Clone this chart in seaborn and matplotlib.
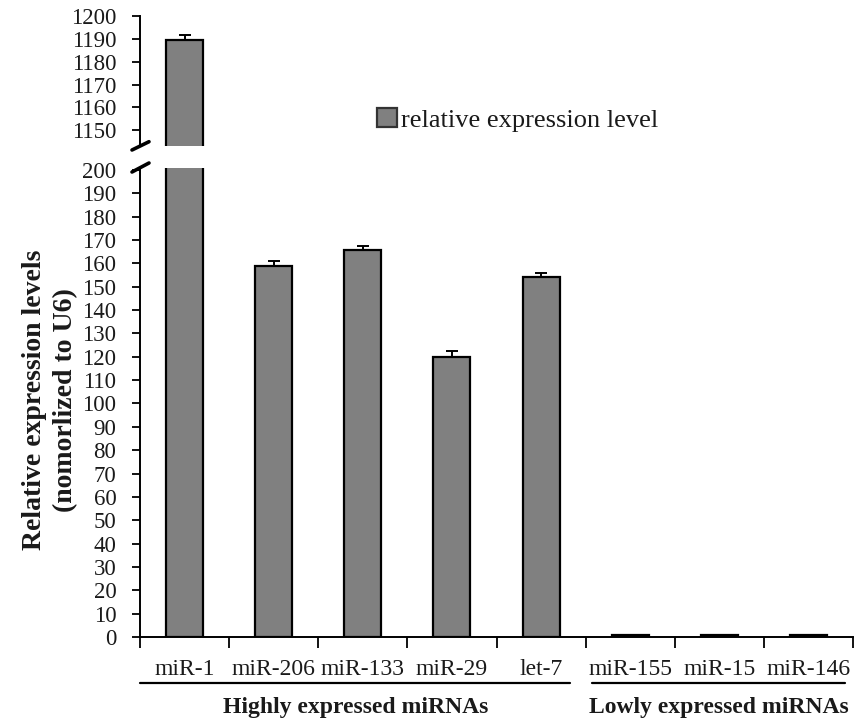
import matplotlib
matplotlib.use("Agg")
import matplotlib.pyplot as plt
import matplotlib.patches as mpatches
import numpy as np
import pandas as pd
import seaborn as sns

# miRNA expression data (normalized to U6)
mirnas = ["miR-1", "miR-206", "miR-133", "miR-29", "let-7",
          "miR-155", "miR-15", "miR-146"]
expression = [1189.5, 158.9, 165.7, 120.0, 154.0, 0.8, 0.8, 0.8]
errors = [2.3, 2.3, 1.9, 2.5, 1.8, 0.0, 0.0, 0.0]
groups = ["Highly expressed miRNAs", "Lowly expressed miRNAs"]
legend_label = "relative expression level"
ylabel = "Relative expression levels\n(nomorlized to U6)"
upper_ticks = list(range(1150, 1201, 10))
lower_ticks = list(range(0, 201, 10))

df = pd.DataFrame({"miRNA": mirnas, "value": expression, "err": errors})

sns.set_theme(style="white")
plt.rcParams["font.family"] = ["Liberation Serif", "DejaVu Serif"]

W, H = 858, 721
fig = plt.figure(figsize=(W / 100, H / 100), dpi=100)

left = 140 / W
width = 713 / W
ax_lo = fig.add_axes([left, 1 - 637 / H, width, (637 - 168) / H])
ax_hi = fig.add_axes([left, 1 - 145.7 / H, width, (145.7 - 16) / H])

bar_color = "#808080"
for ax in (ax_hi, ax_lo):
    sns.barplot(data=df, x="miRNA", y="value", ax=ax, color=bar_color,
                edgecolor="black", linewidth=1.6, width=0.415,
                saturation=1, errorbar=None)
    xs = np.arange(len(mirnas))
    ax.errorbar(xs, df["value"], yerr=[np.zeros(len(xs)), df["err"]],
                fmt="none", ecolor="black", elinewidth=1.4,
                capsize=4.5, capthick=1.4)
    ax.set_xlim(-0.5, len(mirnas) - 0.5)
    ax.set_xlabel("")
    ax.set_ylabel("")
    for s in ("top", "right"):
        ax.spines[s].set_visible(False)
    ax.spines["left"].set_color("black")
    ax.spines["left"].set_linewidth(1.4)
    ax.tick_params(axis="y", which="both", left=True, direction="out",
                   length=6, width=1.3, color="black", pad=11,
                   labelsize=16.5, labelcolor="#1a1a1a")

ax_hi.set_ylim(1143.3, 1200)
ax_hi.set_yticks(upper_ticks)
ax_hi.spines["bottom"].set_visible(False)
ax_hi.set_xticks([])
ax_hi.tick_params(axis="x", which="both", bottom=False, labelbottom=False)

ax_lo.set_ylim(0, 200.85)
ax_lo.set_yticks(lower_ticks)
ax_lo.spines["bottom"].set_color("black")
ax_lo.spines["bottom"].set_linewidth(1.4)
ax_lo.set_xticks(np.arange(len(mirnas) + 1) - 0.5, minor=False)
ax_lo.set_xticklabels([])
ax_lo.set_xticks(np.arange(len(mirnas)), minor=True)
ax_lo.set_xticklabels(mirnas, minor=True)
ax_lo.tick_params(axis="x", which="major", bottom=True, direction="out",
                  length=8, width=1.3, color="black")
ax_lo.tick_params(axis="x", which="minor", bottom=True, length=0,
                  pad=16, labelsize=17, labelcolor="#1a1a1a")

# Axis break marks on the left spine
def break_mark(y0, y1):
    fig.add_artist(plt.Line2D([132 / W, 149 / W], [1 - y0 / H, 1 - y1 / H],
                              color="black", lw=2.6, transform=fig.transFigure))

break_mark(150, 141.7)
break_mark(172, 163)

# Y label
fig.text(50 / W, 1 - 400 / H, ylabel, rotation=90, ha="center", va="center",
         fontsize=20, fontweight="bold", linespacing=1.3, color="#1a1a1a")

# Group underlines and captions
span_pad = [(-0.5, 4.33), (4.57, 7.41)]
trans = ax_lo.get_xaxis_transform()
y_line = (637 - 683) / (637 - 168)
y_text = (637 - 707) / (637 - 168)
for name, (x0, x1) in zip(groups, span_pad):
    ax_lo.plot([x0, x1], [y_line, y_line], transform=trans, color="black",
               lw=1.6, clip_on=False)
    ax_lo.text((x0 + x1) / 2, y_text, name, transform=trans, ha="center",
               va="center", fontsize=17, fontweight="bold", color="#1a1a1a")

# Legend
handle = mpatches.Patch(facecolor=bar_color, edgecolor="#333333", linewidth=1.6,
                        label=legend_label)
fig.legend(handles=[handle], loc="center left",
           bbox_to_anchor=(377 / W, 1 - 120 / H), frameon=False,
           handlelength=0.75, handleheight=0.75, handletextpad=0.15,
           borderpad=0, borderaxespad=0, fontsize=19,
           labelcolor="#1a1a1a")

fig.savefig("out.png", dpi=100)
